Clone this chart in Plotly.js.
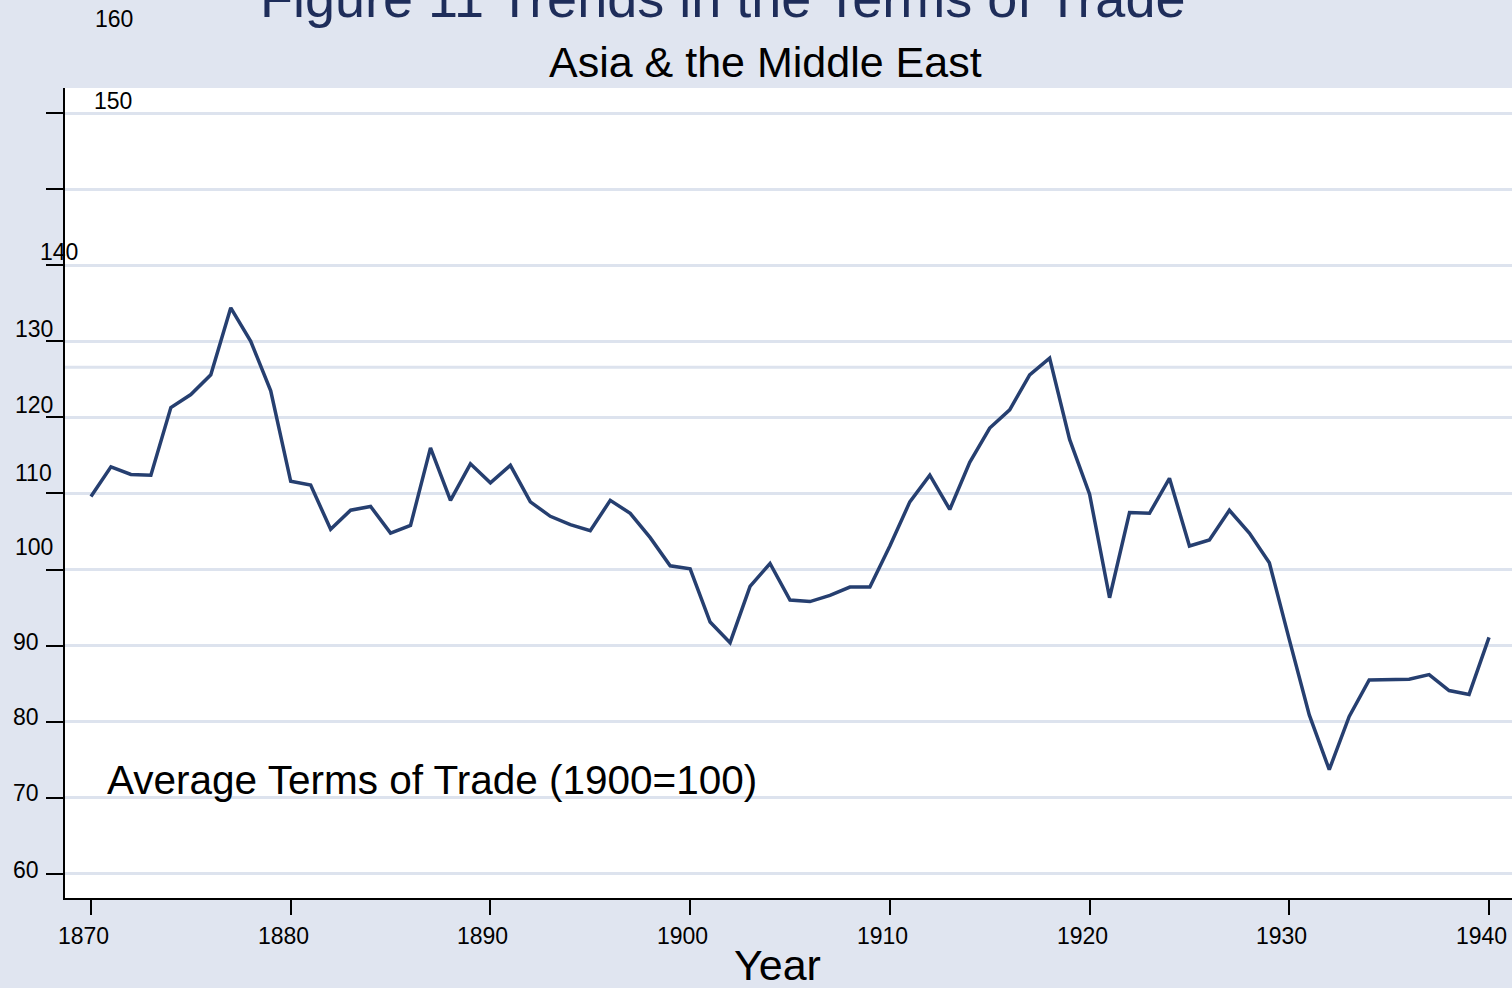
<!DOCTYPE html>
<html>
<head>
<meta charset="utf-8">
<script src="https://cdn.plot.ly/plotly-3.0.1.min.js"></script>
<style>html,body{margin:0;padding:0;background:#e0e5f0;}#chart{width:1512px;height:988px;}</style>
</head>
<body>
<div id="chart"></div>
<script>
const years = [1870,1871,1872,1873,1874,1875,1876,1877,1878,1879,
  1880,1881,1882,1883,1884,1885,1886,1887,1888,1889,
  1890,1891,1892,1893,1894,1895,1896,1897,1898,1899,
  1900,1901,1902,1903,1904,1905,1906,1907,1908,1909,
  1910,1911,1912,1913,1914,1915,1916,1917,1918,1919,
  1920,1921,1922,1923,1924,1925,1926,1927,1928,1929,
  1930,1931,1932,1933,1934,1935,1936,1937,1938,1939,1940];
const termsOfTrade = [109.6,113.5,112.5,112.4,121.3,123.0,125.6,134.4,130.0,123.5,
  111.6,111.1,105.3,107.8,108.3,104.8,105.8,116.0,109.1,113.9,
  111.4,113.7,108.9,107.0,105.9,105.1,109.1,107.4,104.2,100.5,
  100.1,93.1,90.4,97.8,100.8,96.0,95.8,96.6,97.7,97.7,
  103.1,108.9,112.4,107.9,114.1,118.6,121.0,125.6,127.8,117.1,
  109.9,96.3,107.5,107.4,112.0,103.1,103.9,107.8,104.8,100.9,
  90.8,80.9,73.7,80.7,85.5,85.5,85.6,86.2,84.1,83.6,91.1];
const xTickVals = [1870,1880,1890,1900,1910,1920,1930,1940];
const xTickLabels = ['1870','1880','1890','1900','1910','1920','1930','1940'];
const yTickVals = [60,70,80,90,100,110,120,130,140,150,160];
const yTickLabels = ['60','70','80','90','100','110','120','130','140','150','160'];
const extraGridValue = [126.6];
const titleText = 'Figure 11 Trends in the Terms of Trade';
const subtitleText = 'Asia & the Middle East';
const seriesLabel = 'Average Terms of Trade (1900=100)';
const xTitle = 'Year';

// layout geometry (pixels)
const W = 1512, H = 988, ML = 65, MR = 0, MT = 88, MB = 90;
const plotW = W - ML - MR, plotH = H - MT - MB;
const px2x = p => (p - ML) / plotW;
const px2y = p => (H - MB - p) / plotH;

// y tick label placement as drawn in the reference (left edge px, centre px)
const yLabelPos = [[13,870],[13,793],[13,717],[13,642],[15,546.5],[15,473],[15,405],[15,329],[40,252],[94,101],[95,19]];

const FONT = 'Liberation Sans, Arial, Helvetica, sans-serif';
const BG = '#e0e5f0';
const GRID = '#dde3ee';

const annotations = yTickLabels.map((t, i) => ({
  text: t, xref: 'paper', yref: 'paper',
  x: px2x(yLabelPos[i][0] - 2), y: px2y(yLabelPos[i][1]),
  xanchor: 'left', yanchor: 'middle', showarrow: false,
  font: {family: FONT, size: 23, color: '#000'}
}));
// x tick labels: drawn slightly left of their ticks, as in the reference
xTickLabels.forEach((t, i) => annotations.push({
  text: t, xref: 'x', yref: 'paper', x: xTickVals[i], xshift: -7.5,
  y: px2y(936), xanchor: 'center', yanchor: 'middle', showarrow: false,
  font: {family: FONT, size: 23, color: '#000'}
}));
annotations.push({text: titleText, xref:'paper', yref:'paper', x: px2x(722), y: px2y(-2),
  xanchor:'center', yanchor:'middle', showarrow:false, font:{family:FONT, size:54, color:'#1e2d5a'}});
annotations.push({text: subtitleText, xref:'paper', yref:'paper', x: px2x(765), y: px2y(62),
  xanchor:'center', yanchor:'middle', showarrow:false, font:{family:FONT, size:43, color:'#000'}});
annotations.push({text: seriesLabel, xref:'paper', yref:'paper', x: px2x(105), y: px2y(780),
  xanchor:'left', yanchor:'middle', showarrow:false, font:{family:FONT, size:40.5, color:'#000'}});
annotations.push({text: xTitle, xref:'paper', yref:'paper', x: px2x(777), y: px2y(965),
  xanchor:'center', yanchor:'middle', showarrow:false, font:{family:FONT, size:43, color:'#000'}});

const shapes = extraGridValue.map(v => ({
  type:'line', xref:'paper', yref:'y', x0:0, x1:1, y0:v, y1:v, layer:'below',
  line:{color:GRID, width:3}
}));

const trace = {
  x: years, y: termsOfTrade, type:'scatter', mode:'lines',
  line:{color:'#263f70', width:3.5}, hoverinfo:'x+y'
};

const layout = {
  width: W, height: H,
  margin: {l:ML, r:MR, t:MT, b:MB, pad:0},
  paper_bgcolor: BG, plot_bgcolor: '#ffffff',
  showlegend: false,
  xaxis: {
    range: [1868.70, 1941.15], tickvals: xTickVals, showticklabels:false,
    ticks:'outside', ticklen:15, tickwidth:2, tickcolor:'#000',
    showline:true, linecolor:'#000', linewidth:2, showgrid:false, zeroline:false,
    fixedrange:true
  },
  yaxis: {
    range: [56.84, 163.29], tickvals: yTickVals, showticklabels:false,
    ticks:'outside', ticklen:17, tickwidth:2, tickcolor:'#000',
    showline:true, linecolor:'#000', linewidth:2,
    showgrid:true, gridcolor:GRID, gridwidth:3, zeroline:false, fixedrange:true
  },
  annotations: annotations,
  shapes: shapes
};

Plotly.newPlot('chart', [trace], layout, {displayModeBar:false, staticPlot:true});
</script>
</body>
</html>
